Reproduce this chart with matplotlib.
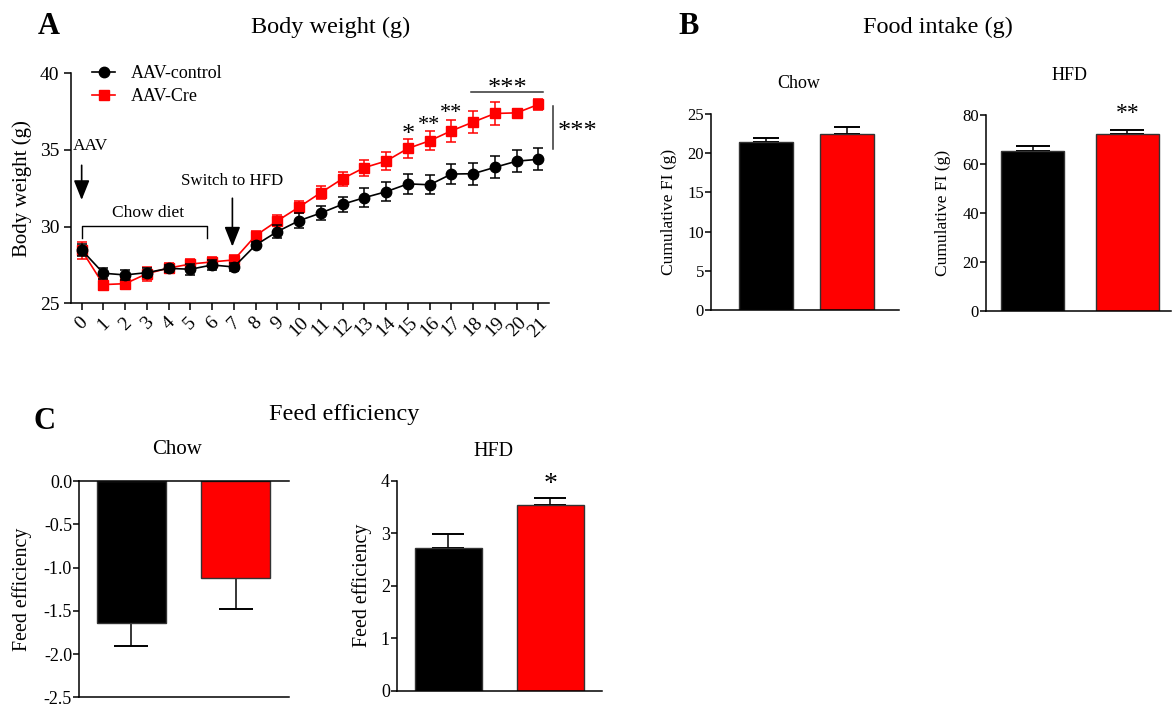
import matplotlib
matplotlib.use("Agg")
import matplotlib.pyplot as plt
import numpy as np

plt.rcParams['font.family'] = ['Liberation Serif', 'DejaVu Serif']
plt.rcParams['axes.linewidth'] = 1.1

# ---------------- data ----------------
days = list(range(22))
day_labels = [str(d) for d in days]
ctrl_bw = [28.48, 26.96, 26.85, 27.00, 27.28, 27.22, 27.50, 27.37, 28.80, 29.68, 30.39,
           30.89, 31.46, 31.89, 32.28, 32.79, 32.73, 33.43, 33.45, 33.87, 34.27, 34.39]
ctrl_bw_err = [0.40, 0.35, 0.30, 0.30, 0.25, 0.35, 0.30, 0.25, 0.20, 0.40, 0.49,
               0.47, 0.50, 0.61, 0.60, 0.67, 0.62, 0.68, 0.72, 0.73, 0.71, 0.72]
cre_bw = [28.46, 26.22, 26.28, 26.93, 27.30, 27.56, 27.70, 27.83, 29.42, 30.38, 31.28,
          32.22, 33.13, 33.85, 34.28, 35.10, 35.60, 36.25, 36.82, 37.38, 37.42, 37.97]
cre_bw_err = [0.55, 0.37, 0.35, 0.45, 0.30, 0.30, 0.30, 0.30, 0.30, 0.35, 0.38,
              0.43, 0.46, 0.52, 0.58, 0.64, 0.63, 0.70, 0.70, 0.73, 0.25, 0.35]

groups = ["AAV-control", "AAV-Cre"]
bar_colors = ["#000000", "#FF0000"]

fi_chow = [21.45, 22.48]
fi_chow_err = [0.51, 0.89]
fi_hfd = [65.3, 72.4]
fi_hfd_err = [2.0, 1.5]

fe_chow = [-1.637, -1.117]
fe_chow_err = [0.27, 0.36]
fe_hfd = [2.724, 3.53]
fe_hfd_err = [0.26, 0.146]

W, H = 1172, 707
fig = plt.figure(figsize=(W / 100, H / 100), dpi=100)


def px_axes(l, t, r, b):
    return fig.add_axes([l / W, 1 - b / H, (r - l) / W, (b - t) / H])


def ftext(x, y, s, **kw):
    fig.text(x / W, 1 - y / H, s, ha='center', va='center', **kw)


# ---------------- Panel A ----------------
axA = px_axes(71, 73.3, 549.3, 303.3)
cre_c = axA.errorbar(days, cre_bw, yerr=cre_bw_err, color='#FF0000', marker='s', ms=7.5,
                     lw=1.2, elinewidth=1.1, capsize=3.6, capthick=1.1, zorder=3)
ctrl_c = axA.errorbar(days, ctrl_bw, yerr=ctrl_bw_err, color='#000000', marker='o', ms=7.5,
                      lw=1.2, elinewidth=1.1, capsize=3.6, capthick=1.1, zorder=4)
axA.set_xlim(-0.49, 21.5)
axA.set_ylim(25, 40)
axA.set_yticks([25, 30, 35, 40])
axA.set_xticks(days)
axA.set_xticklabels(day_labels, rotation=45, ha='center')
axA.tick_params(axis='both', labelsize=14, length=5, width=1.1, direction='out')
axA.tick_params(axis='x', pad=3)
for s in ['top', 'right']:
    axA.spines[s].set_visible(False)
axA.set_ylabel("Body weight (g)", fontsize=15, va='center')
axA.yaxis.set_label_coords(-0.103, 0.5)

axA.legend([ctrl_c.lines[0], cre_c.lines[0]], groups,
           loc='upper left', bbox_to_anchor=(92 / W, 1 - 65 / H),
           bbox_transform=fig.transFigure, frameon=False, fontsize=13,
           handlelength=1.3, handletextpad=0.85, labelspacing=0.34,
           borderpad=0, borderaxespad=0)

# annotations
arrow_kw = dict(arrowstyle='-|>,head_length=0.6,head_width=0.24', mutation_scale=20,
                lw=1.2, color='k', shrinkA=0, shrinkB=0)
axA.text(-0.42, 35.28, "AAV", fontsize=12.5, ha='left', va='center')
axA.annotate('', xy=(0, 31.74), xytext=(0, 34.0), arrowprops=arrow_kw)
axA.plot([0.03, 0.03, 5.78, 5.78], [29.24, 30.07, 30.07, 29.24], color='k', lw=1.0)
axA.text(3.06, 30.87, "Chow diet", fontsize=12.5, ha='center', va='center')
axA.text(6.93, 32.98, "Switch to HFD", fontsize=12.2, ha='center', va='center')
axA.annotate('', xy=(6.93, 28.7), xytext=(6.93, 31.85), arrowprops=arrow_kw)

star_kw = dict(fontsize=19, ha='center', va='center')
star2_kw = dict(fontsize=16, ha='center', va='center')
axA.text(15, 35.95, "*", **star_kw)
axA.text(15.98, 36.6, "**", **star2_kw)
axA.text(17.0, 37.4, "**", **star2_kw)
axA.plot([17.9, 21.23], [38.8, 38.8], color='#333333', lw=1.1, clip_on=False)
axA.text(19.6, 39.0, "***", **star_kw)
axA.plot([21.67, 21.67], [35.07, 37.9], color='#333333', lw=1.1, clip_on=False)
axA.text(22.8, 36.2, "***", clip_on=False, **star_kw)


# ---------------- bar helper ----------------
def bar_panel(ax, vals, errs, capsize, xlim, negative=False):
    x = np.arange(len(vals))
    ax.bar(x, vals, width=0.66, color=bar_colors, edgecolor='#333333', linewidth=1.0, zorder=2)
    if negative:
        yerr = [errs, [0] * len(errs)]
    else:
        yerr = [[0] * len(errs), errs]
    ax.errorbar(x, vals, yerr=yerr, fmt='none', ecolor='k', elinewidth=1.1,
                capsize=capsize, capthick=1.4, zorder=1)
    ax.set_xlim(*xlim)
    ax.set_xticks([])
    ax.spines['right'].set_visible(False)


# ---------------- Panel B ----------------
axB1 = px_axes(711, 114, 899, 310)
bar_panel(axB1, fi_chow, fi_chow_err, 9.4, (-0.676, 1.636))
axB1.set_ylim(0, 25)
axB1.set_yticks([0, 5, 10, 15, 20, 25])
axB1.spines['top'].set_visible(False)
axB1.tick_params(axis='y', labelsize=12, length=4, width=1.1, pad=1)
axB1.set_ylabel("Cumulative FI (g)", fontsize=12.6, va='center')
axB1.yaxis.set_label_coords(-0.223, 0.5)

axB2 = px_axes(985.7, 115, 1171, 311)
bar_panel(axB2, fi_hfd, fi_hfd_err, 12.4, (-0.494, 1.46))
axB2.set_ylim(0, 80)
axB2.set_yticks([0, 20, 40, 60, 80])
axB2.spines['top'].set_visible(False)
axB2.tick_params(axis='y', labelsize=12, length=4, width=1.1, pad=1)
axB2.set_ylabel("Cumulative FI (g)", fontsize=12.6, va='center')
axB2.yaxis.set_label_coords(-0.229, 0.5)
axB2.text(1, 80.6, "**", fontsize=17, ha='center', va='center', clip_on=False)

# ---------------- Panel C ----------------
axC1 = px_axes(79, 481, 288.7, 697.3)
bar_panel(axC1, fe_chow, fe_chow_err, 12.2, (-0.499, 1.506), negative=True)
axC1.set_ylim(-2.5, 0)
axC1.set_yticks([0, -0.5, -1.0, -1.5, -2.0, -2.5])
axC1.set_yticklabels(["0.0", "-0.5", "-1.0", "-1.5", "-2.0", "-2.5"])
axC1.tick_params(axis='y', labelsize=13, length=4, width=1.1, pad=1)
axC1.set_ylabel("Feed efficiency", fontsize=14.3, va='center')
axC1.yaxis.set_label_coords(-0.272, 0.5)

axC2 = px_axes(396.7, 480.7, 601.7, 690.7)
bar_panel(axC2, fe_hfd, fe_hfd_err, 11.8, (-0.506, 1.505))
axC2.set_ylim(0, 4)
axC2.set_yticks([0, 1, 2, 3, 4])
axC2.spines['top'].set_visible(False)
axC2.tick_params(axis='y', labelsize=13, length=4, width=1.1, pad=1)
axC2.set_ylabel("Feed efficiency", fontsize=14.3, va='center')
axC2.yaxis.set_label_coords(-0.171, 0.5)
axC2.text(1, 3.92, "*", fontsize=20, ha='center', va='center', clip_on=False)

# ---------------- titles / letters ----------------
ftext(49, 26, "A", fontsize=22, fontweight='bold')
ftext(331, 27, "Body weight (g)", fontsize=17.5)
ftext(689, 27, "B", fontsize=22, fontweight='bold')
ftext(938, 27, "Food intake (g)", fontsize=17.5)
ftext(44, 422, "C", fontsize=22, fontweight='bold')
ftext(344, 415, "Feed efficiency", fontsize=17.5)
ftext(799, 84, "Chow", fontsize=13)
ftext(1070, 76, "HFD", fontsize=13)
ftext(177, 450, "Chow", fontsize=15)
ftext(493, 452, "HFD", fontsize=14.5)

fig.savefig("out.png", dpi=100)
